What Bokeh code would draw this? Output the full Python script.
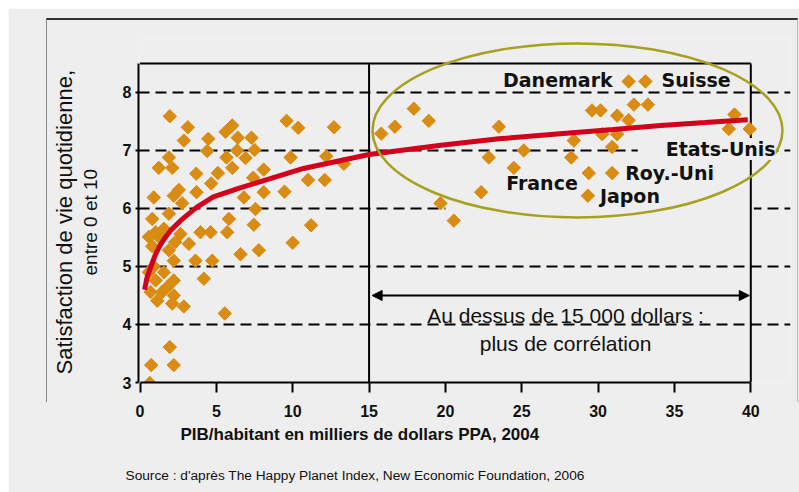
import math
from bokeh.plotting import figure
from bokeh.models import (Range1d, FixedTicker, Label, Title, Arrow, NormalHead,
                          BoxAnnotation, InlineStyleSheet)
from bokeh.embed import file_html
from bokeh.resources import INLINE

# ---------------- data ----------------
gdp = [1.95, 3.13, 2.87, 4.47, 4.4, 5.6, 6.04, 6.4, 7.3, 6.36, 7.5, 6.91, 5.66, 1.89,
       1.23, 2.11, 3.68, 5.1, 4.66, 6.04, 8.1, 7.41, 9.6, 10.36, 12.7, 9.86, 12.2, 13.35,
       11.0, 12.1, 9.46, 8.1, 6.8, 3.7, 2.54, 2.21, 0.9, 2.76, 7.56, 1.89, 0.8, 5.82,
       7.45, 11.2, 3.96, 4.62, 5.71, 10.0, 7.78, 6.58, 2.21, 3.63, 4.73, 4.18, 0.58,
       1.02, 1.56, 1.34, 2.65, 3.2, 1.89, 0.8, 2.3, 0.58, 1.56, 1.02, 2.21, 0.69, 1.45,
       2.21, 1.13, 2.11, 2.87, 0.9, 1.8, 5.55, 1.95, 0.73, 2.21, 0.64,
       15.8, 16.69, 17.93, 18.91, 23.5, 25.13, 22.84, 24.48, 22.34, 19.68, 20.55,
       28.41, 28.24, 29.39, 30.92, 29.33, 29.6, 30.16, 31.25, 32.0, 30.27, 31.25,
       30.92, 32.34, 33.26, 32.0, 33.1, 38.93, 38.56, 39.93]
sat = [7.59, 7.40, 7.17, 7.20, 6.99, 7.32, 7.43, 7.22, 7.22, 7.00, 7.01, 6.87, 6.88, 6.88,
       6.70, 6.70, 6.60, 6.61, 6.43, 6.70, 6.67, 6.53, 7.51, 7.39, 7.40, 6.88, 6.90, 6.77,
       6.49, 6.49, 6.29, 6.28, 6.19, 6.28, 6.32, 6.22, 6.19, 6.09, 5.99, 5.91, 5.82, 5.82,
       5.72, 5.71, 5.59, 5.59, 5.59, 5.41, 5.28, 5.21, 5.10, 5.10, 5.10, 4.79, 5.51,
       5.59, 5.65, 5.48, 5.56, 5.39, 5.28, 5.35, 5.42, 4.90, 4.90, 4.76, 4.76, 4.56, 4.56,
       4.50, 4.41, 4.36, 4.31, 5.00, 4.65, 4.19, 3.61, 3.30, 3.30, 2.99,
       7.29, 7.41, 7.72, 7.51, 7.41, 7.00, 6.88, 6.70, 6.28, 6.09, 5.79,
       7.17, 6.88, 6.61, 6.61, 6.22, 7.69, 7.69, 7.60, 7.52, 7.28, 7.28,
       7.06, 7.79, 7.79, 8.19, 8.19, 7.62, 7.37, 7.37]

# named countries: (name, gdp, satisfaction)
countries = ["Danemark", "Suisse", "Etats-Unis", "France", "Roy.-Uni", "Japon"]
country_gdp = [32.0, 33.1, 39.93, 29.39, 30.92, 29.33]
country_sat = [8.19, 8.19, 7.37, 6.61, 6.61, 6.22]

# logarithmic trend curve
trend_x = [0.3, 0.45, 0.7, 1.0, 1.3, 1.65, 2.0, 2.65, 3.7, 4.8, 6.5, 8.1, 10.7, 15.0,
           19.7, 23.5, 27.5, 31.0, 34.1, 37.0, 39.8]
trend_y = [4.60, 4.80, 4.99, 5.20, 5.36, 5.50, 5.62, 5.79, 6.02, 6.20, 6.35, 6.48, 6.69,
           6.93, 7.09, 7.20, 7.29, 7.36, 7.43, 7.48, 7.53]

x_ticks = [0, 5, 10, 15, 20, 25, 30, 35, 40]
y_ticks = [3, 4, 5, 6, 7, 8]
grid_ticks = [4, 5, 6, 7, 8]
x_lim = (0, 40)
y_lim = (3, 8.5)
threshold = 15

# ---------------- styles ----------------
GRAY = "#eeeeee"
ORANGE = "#d98b12"
RED = "#d2001a"
OLIVE = "#a8a020"
INK = "#111111"

p = figure(width=791, height=484, x_range=Range1d(-0.1, 42.6), y_range=Range1d(3, 8.93),
           output_backend="svg", toolbar_location=None,
           min_border_left=130, min_border_right=9, min_border_top=30, min_border_bottom=110,
           background_fill_color=GRAY, border_fill_color=GRAY, outline_line_color=None)
p.styles = {"margin-left": "8px", "margin-top": "8px"}

# axes
for ax in (p.xaxis[0], p.yaxis[0]):
    ax.axis_line_width = 2
    ax.axis_line_color = "black"
    ax.major_tick_line_width = 2
    ax.major_tick_line_color = "black"
    ax.minor_tick_line_color = None
    ax.major_label_text_font = "Liberation Sans"
    ax.major_label_text_font_style = "bold"
    ax.major_label_text_font_size = "16px"
    ax.major_label_text_color = INK

p.xaxis.ticker = FixedTicker(ticks=x_ticks)
p.xaxis.bounds = x_lim
p.xaxis.major_tick_in = 0
p.xaxis.major_tick_out = 10
p.xaxis.major_label_standoff = 12

p.yaxis.ticker = FixedTicker(ticks=y_ticks)
p.yaxis.bounds = y_lim
p.yaxis.major_tick_in = 0
p.yaxis.major_tick_out = 3
p.yaxis.major_label_standoff = 4

# y axis title: two centred lines (closest to the axis first)
p.add_layout(Title(text=" ", text_font_size="12px", standoff=2), "left")
p.add_layout(Title(text="entre 0 et 10", align="left", offset=107, standoff=2,
                   text_font="Liberation Sans", text_font_style="normal",
                   text_font_size="19px", text_color=INK), "left")
p.add_layout(Title(text="Satisfaction de vie quotidienne,", align="left", offset=8,
                   standoff=0, text_font="Liberation Sans", text_font_style="normal",
                   text_font_size="22px", text_color=INK), "left")

# grid
p.xgrid.visible = False
p.ygrid.ticker = FixedTicker(ticks=grid_ticks)
p.ygrid.bounds = x_lim
p.ygrid.grid_line_color = "black"
p.ygrid.grid_line_width = 1.8
p.ygrid.grid_line_dash = "11 6"

# gaps in the dashed lines behind the annotations
p.add_layout(BoxAnnotation(left=20.0, right=40.2, bottom=5.95, top=6.05, fill_color=GRAY,
                           fill_alpha=1, line_color=None, level="underlay"))
p.add_layout(BoxAnnotation(left=32.6, right=40.2, bottom=6.95, top=7.05, fill_color=GRAY,
                           fill_alpha=1, line_color=None, level="underlay"))

# frame top / right, threshold line
p.segment(x0=[x_lim[0], x_lim[1], threshold], y0=[y_lim[1], y_lim[0], y_lim[0]],
          x1=[x_lim[1], x_lim[1], threshold], y1=[y_lim[1], y_lim[1], y_lim[1]],
          line_color="black", line_width=2)

# scatter
p.scatter(gdp, sat, marker="square", angle=math.pi / 4, size=9.5,
          fill_color=ORANGE, line_color=ORANGE)

# trend
p.line(trend_x, trend_y, line_color=RED, line_width=5)

# ellipse around rich countries
p.ellipse(x=[28.65], y=[7.345], width=[26.85], height=[3.0], fill_color=None,
          line_color=OLIVE, line_width=2.5)

# country labels
label_style = {
    "Danemark": dict(x_offset=-16, y_offset=1, text_align="right"),
    "Suisse": dict(x_offset=16, y_offset=1, text_align="left"),
    "Etats-Unis": dict(x_offset=-84, y_offset=-20, text_align="left"),
    "France": dict(x_offset=-11, y_offset=-10, text_align="right"),
    "Roy.-Uni": dict(x_offset=13, y_offset=0, text_align="left"),
    "Japon": dict(x_offset=12, y_offset=0, text_align="left"),
}
for name, cx, cy in zip(countries, country_gdp, country_sat):
    st = label_style[name]
    lab = Label(x=cx, y=cy, text=name, text_baseline="middle",
                text_font="DejaVu Sans", text_font_style="bold", text_font_size="19px",
                text_color=INK, **st)
    if name == "Etats-Unis":
        lab.background_fill_color = GRAY
        lab.background_fill_alpha = 1
    p.add_layout(lab)

# arrow and note
p.add_layout(Arrow(start=NormalHead(size=10, fill_color="black", line_color="black"),
                   end=NormalHead(size=10, fill_color="black", line_color="black"),
                   x_start=15.2, y_start=4.5, x_end=39.9, y_end=4.5,
                   line_color="black", line_width=2))
p.add_layout(Label(x=27.87, y=3.91, text="Au dessus de 15 000 dollars :\nplus de corrélation",
                   text_align="center", text_baseline="middle", text_font="Liberation Sans",
                   text_font_size="21px", text_color=INK))

# x axis title, spacer and source below the axis
p.add_layout(Title(text="PIB/habitant en milliers de dollars PPA, 2004", align="left",
                   offset=42, text_font="Liberation Sans", text_font_style="bold",
                   text_font_size="17px", text_color=INK, standoff=7), "below")
p.add_layout(Title(text=" ", text_font_size="12px", standoff=0), "below")
p.add_layout(Title(text="Source : d'après The Happy Planet Index, New Economic Foundation, 2006",
                   align="left", offset=-13, text_font="Liberation Sans",
                   text_font_style="normal", text_font_size="13.7px", text_color=INK,
                   standoff=4), "below")

p.stylesheets = [InlineStyleSheet(css=(
    ":host::after{content:'';position:absolute;left:38px;top:10px;right:1px;bottom:90px;"
    "border-top:2px solid #333;border-left:1px solid #888;border-right:1px solid #bbb;"
    "pointer-events:none;}"))]

open("out.html", "w").write(file_html(p, INLINE))
